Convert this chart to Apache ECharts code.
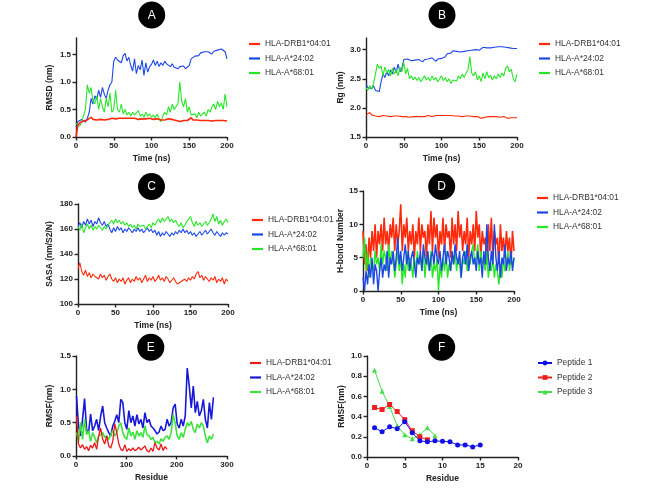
<!DOCTYPE html>
<html><head><meta charset="utf-8">
<script src="https://cdn.jsdelivr.net/npm/echarts@6/dist/echarts.min.js"></script>
<style>html,body{margin:0;padding:0;background:#fff}#c{width:669px;height:492px}</style>
</head><body><div id="c"></div>
<script>
// ---------- names & ticks ----------
const hlaNames = ['HLA-DRB1*04:01', 'HLA-A*24:02', 'HLA-A*68:01'];
const peptideNames = ['Peptide 1', 'Peptide 2', 'Peptide 3'];
const panelLetters = ['A', 'B', 'C', 'D', 'E', 'F'];
const timeTicks = [0, 50, 100, 150, 200];
const rmsdTicks = [0, 0.5, 1.0, 1.5];
const rgTicks = [1.5, 2.0, 2.5, 3.0];
const sasaTicks = [100, 120, 140, 160, 180];
const hbondTicks = [0, 5, 10, 15];
const residueTicksE = [0, 100, 200, 300];
const rmsfTicksE = [0, 0.5, 1.0, 1.5];
const residueTicksF = [0, 5, 10, 15, 20];
const rmsfTicksF = [0, 0.2, 0.4, 0.6, 0.8, 1.0];

// ---------- time grids ----------
const time25 = [0,2.5,5,7.5,10,12.5,15,17.5,20,22.5,25,27.5,30,32.5,35,37.5,40,42.5,45,47.5,50,52.5,55,57.5,60,62.5,65,67.5,70,72.5,75,77.5,80,82.5,85,87.5,90,92.5,95,97.5,100,102.5,105,107.5,110,112.5,115,117.5,120,122.5,125,127.5,130,132.5,135,137.5,140,142.5,145,147.5,150,152.5,155,157.5,160,162.5,165,167.5,170,172.5,175,177.5,180,182.5,185,187.5,190,192.5,195,197.5,200];
const time2 = [0,2,4,6,8,10,12,14,16,18,20,22,24,26,28,30,32,34,36,38,40,42,44,46,48,50,52,54,56,58,60,62,64,66,68,70,72,74,76,78,80,82,84,86,88,90,92,94,96,98,100,102,104,106,108,110,112,114,116,118,120,122,124,126,128,130,132,134,136,138,140,142,144,146,148,150,152,154,156,158,160,162,164,166,168,170,172,174,176,178,180,182,184,186,188,190,192,194,196,198,200];

// ---------- A: RMSD ----------
const rmsdDRB1 = [0.0,0.22,0.26,0.28,0.29,0.3,0.31,0.34,0.36,0.32,
 0.3,0.31,0.31,0.32,0.32,0.31,0.33,0.32,0.33,0.34,
 0.34,0.33,0.35,0.34,0.33,0.34,0.35,0.34,0.33,0.34,
 0.33,0.34,0.33,0.32,0.34,0.33,0.32,0.33,0.32,0.34,
 0.33,0.32,0.31,0.33,0.32,0.31,0.32,0.31,0.32,0.33,
 0.31,0.32,0.31,0.3,0.32,0.28,0.31,0.3,0.31,0.3,
 0.32,0.35,0.31,0.3,0.31,0.29,0.3,0.31,0.3,0.29,
 0.3,0.31,0.29,0.3,0.3,0.29,0.3,0.29,0.3,0.29,
 0.29];
const rmsdA2402 = [0.18,0.28,0.25,0.32,0.3,0.27,0.34,0.45,0.7,0.6,
 0.75,0.68,0.85,0.72,0.9,0.78,0.7,0.85,0.95,1.0,
 1.38,1.45,1.4,1.42,1.35,1.48,1.52,1.38,1.45,1.3,
 1.2,1.42,1.15,1.3,1.22,1.4,1.12,1.35,1.18,1.28,
 1.32,1.4,1.3,1.38,1.28,1.35,1.3,1.38,1.33,1.36,
 1.28,1.33,1.27,1.3,1.24,1.28,1.25,1.29,1.24,1.27,
 1.3,1.42,1.45,1.47,1.5,1.48,1.53,1.5,1.55,1.52,
 1.55,1.54,1.51,1.56,1.55,1.58,1.56,1.6,1.58,1.55,
 1.42];
const rmsdA6801 = [0.25,0.22,0.2,0.28,0.3,0.5,0.95,0.8,0.9,0.65,
 0.6,0.75,0.5,0.7,0.55,0.45,0.7,0.55,0.8,0.45,
 0.5,0.85,0.5,0.45,0.6,0.42,0.5,0.4,0.45,0.38,
 0.45,0.4,0.4,0.48,0.38,0.42,0.36,0.45,0.38,0.42,
 0.36,0.4,0.35,0.42,0.33,0.28,0.38,0.45,0.4,0.55,
 0.45,0.6,0.5,0.55,0.6,1.0,0.65,0.55,0.7,0.45,
 0.55,0.4,0.38,0.42,0.35,0.45,0.38,0.4,0.45,0.38,
 0.5,0.45,0.55,0.6,0.5,0.65,0.55,0.62,0.5,0.78,
 0.55];

// ---------- B: Rg ----------
const rgDRB1 = [1.88,1.9,1.92,1.88,1.87,1.86,1.87,1.85,1.86,1.87,
 1.85,1.86,1.86,1.85,1.87,1.86,1.85,1.86,1.87,1.85,
 1.86,1.85,1.86,1.84,1.86,1.85,1.86,1.85,1.86,1.85,
 1.86,1.85,1.86,1.87,1.86,1.85,1.86,1.87,1.86,1.87,
 1.86,1.87,1.86,1.87,1.86,1.87,1.86,1.86,1.87,1.86,
 1.86,1.85,1.86,1.86,1.85,1.86,1.86,1.85,1.86,1.85,
 1.84,1.82,1.85,1.84,1.85,1.85,1.84,1.85,1.84,1.85,
 1.84,1.84,1.83,1.85,1.84,1.82,1.84,1.83,1.84,1.83,
 1.83];
const rgA2402 = [2.4,2.35,2.37,2.33,2.38,2.3,2.33,2.28,2.45,2.58,
 2.52,2.62,2.55,2.65,2.58,2.7,2.6,2.75,2.62,2.68,
 2.83,2.86,2.84,2.83,2.81,2.84,2.82,2.8,2.83,2.81,
 2.79,2.83,2.8,2.84,2.82,2.86,2.83,2.8,2.84,2.82,
 2.85,2.83,2.88,2.93,2.96,2.94,2.98,2.95,2.97,2.94,
 2.96,2.93,2.97,2.95,2.98,2.96,2.99,2.97,3.0,3.02,
 2.99,3.02,3.04,3.02,3.03,3.05,3.03,3.06,3.04,3.07,
 3.05,3.08,3.05,3.06,3.04,3.07,3.03,3.0,3.02,3.04,
 3.02];
const rgA6801 = [2.35,2.3,2.38,2.32,2.42,2.58,2.75,2.68,2.72,2.55,
 2.7,2.6,2.66,2.55,2.68,2.58,2.65,2.55,2.7,2.62,
 2.78,2.58,2.68,2.5,2.55,2.48,2.53,2.47,2.52,2.45,
 2.5,2.55,2.48,2.52,2.46,2.55,2.48,2.52,2.45,2.5,
 2.55,2.47,2.52,2.45,2.5,2.42,2.48,2.5,2.46,2.55,
 2.5,2.58,2.52,2.6,2.65,2.88,2.6,2.55,2.62,2.48,
 2.55,2.45,2.6,2.5,2.62,2.52,2.56,2.48,2.55,2.5,
 2.58,2.52,2.6,2.55,2.68,2.72,2.62,2.66,2.5,2.45,
 2.58];

// ---------- C: SASA ----------
const sasaDRB1 = [128,133,126,123,127,122,125,121,124,122,
 123,120,124,121,123,119,122,124,120,118,
 121,117,120,118,121,116,119,121,117,120,
 118,122,119,121,117,120,123,118,121,119,
 122,118,120,123,119,121,118,122,120,117,
 119,121,118,116,115,118,117,120,118,121,
 119,122,120,124,126,121,123,119,122,120,
 118,121,119,122,117,120,118,121,116,120,
 118];
const sasaA2402 = [162,165,161,166,163,168,164,167,162,166,
 164,169,165,163,166,162,164,160,157,161,
 158,162,159,161,157,160,158,161,159,157,
 160,158,161,158,160,157,159,161,158,160,
 157,159,155,158,154,157,155,158,156,154,
 157,155,158,156,159,157,160,157,159,156,
 158,155,157,154,156,158,155,157,159,156,
 158,160,157,155,158,156,154,157,155,157,
 156];
const sasaA6801 = [162,159,164,157,161,164,160,163,159,162,
 160,163,161,159,162,160,163,165,167,164,
 168,165,167,164,166,163,165,162,164,161,
 163,160,164,162,161,163,160,162,164,161,
 165,163,166,168,165,169,166,168,170,166,
 168,165,167,164,162,165,161,163,166,168,
 170,165,162,166,163,165,162,164,166,163,
 165,168,172,166,170,164,167,163,166,168,
 165];

// ---------- D: H-bond number ----------
const hbDRB1 = [9,4,7,3,8,5,9,6,10,5,
 9,7,10,6,11,7,9,6,10,8,
 11,6,10,7,9,13,6,10,8,11,
 6,9,7,10,5,9,7,11,6,10,
 8,9,5,10,7,12,6,11,8,10,
 5,9,7,11,6,10,8,9,5,11,
 7,10,6,12,8,10,6,9,7,11,
 5,9,7,10,6,12,8,10,5,9,
 7,8,4,10,6,11,5,9,7,8,
 4,10,6,8,5,9,6,8,4,9,
 6];
const hbA2402 = [2,0,3,1,4,2,5,1,4,3,
 0,3,5,2,4,3,6,2,5,4,
 6,3,5,8,4,6,3,5,7,4,
 6,3,5,6,4,2,5,4,6,3,
 7,5,4,6,3,5,6,4,7,5,
 4,6,3,5,7,4,6,5,3,6,
 4,7,5,4,6,2,5,6,4,7,
 3,5,6,4,5,3,6,4,5,2,
 6,4,10,5,3,6,4,10,5,3,
 6,2,5,4,7,3,5,4,6,3,
 5];
const hbA6801 = [5,8,3,6,2,5,4,3,6,4,
 5,3,7,4,6,5,3,7,4,6,
 5,2,4,6,3,5,1,4,2,6,
 3,5,4,2,5,3,6,4,5,3,
 6,2,5,4,3,6,2,4,3,5,
 0,4,2,5,3,6,2,4,3,5,
 4,6,3,5,4,2,5,4,6,3,
 5,4,6,7,4,5,7,3,6,4,
 5,3,6,2,4,3,5,2,4,3,
 1,4,2,5,3,4,6,3,5,4,
 5];

// ---------- E: RMSF per residue ----------
const residueAll = [1,5,9,13,17,21,25,29,33,37,41,45,49,53,57,61,65,69,73,77,81,85,89,93,97,101,105,109,113,117,121,125,129,133,137,141,145,149,153,157,161,165,169,173,177,181,185,189,193,197,201,205,209,213,217,221,225,229,233,237,241,245,249,253,257,261,265,269,273];
const residueDRB1 = [1,5,9,13,17,21,25,29,33,37,41,45,49,53,57,61,65,69,73,77,81,85,89,93,97,101,105,109,113,117,121,125,129,133,137,141,145,149,153,157,161,165,169,173,177,181];
const rmsfDRB1 = [0.6,0.18,0.12,0.17,0.1,0.14,0.08,0.16,0.12,0.2,
 0.1,0.3,0.42,0.25,0.18,0.3,0.15,0.12,0.22,0.48,
 0.35,0.18,0.1,0.08,0.17,0.07,0.11,0.08,0.12,0.08,
 0.1,0.13,0.09,0.12,0.15,0.08,0.06,0.12,0.07,0.2,
 0.12,0.09,0.18,0.08,0.14,0.1];
const rmsfA2402 = [0.9,0.45,0.3,0.55,0.86,0.4,0.35,0.63,0.38,0.45,
 0.55,0.38,0.6,0.75,0.5,0.42,0.35,0.3,0.45,0.52,
 0.62,0.5,0.85,0.8,0.5,0.4,0.68,0.5,0.6,0.45,
 0.62,0.48,0.55,0.42,0.65,0.5,0.55,0.45,0.42,0.38,
 0.33,0.36,0.45,0.38,0.4,0.55,0.45,0.5,0.72,0.78,
 0.48,0.42,0.55,0.45,0.6,1.32,1.05,0.72,1.05,0.65,
 0.82,0.6,0.68,0.85,0.55,0.42,0.8,0.55,0.88];
const rmsfA6801 = [0.35,0.22,0.5,0.25,0.55,0.32,0.38,0.22,0.35,0.28,
 0.2,0.3,0.32,0.35,0.28,0.3,0.25,0.32,0.38,0.3,
 0.35,0.45,0.5,0.35,0.28,0.25,0.42,0.3,0.36,0.25,
 0.38,0.3,0.35,0.28,0.45,0.32,0.3,0.25,0.28,0.2,
 0.22,0.18,0.26,0.22,0.28,0.3,0.25,0.35,0.62,0.5,
 0.3,0.25,0.35,0.28,0.4,0.5,0.45,0.52,0.4,0.35,
 0.48,0.42,0.5,0.45,0.3,0.2,0.3,0.25,0.33];

// ---------- F: peptide RMSF ----------
const pep1Res = [1,2,3,4,5,6,7,8,9,10,11,12,13,14,15];
const pep1Rmsf = [0.29,0.25,0.30,0.28,0.35,0.24,0.16,0.15,0.16,0.155,0.15,0.12,0.12,0.10,0.12];
const pep2Res = [1,2,3,4,5,6,7,8];
const pep2Rmsf = [0.49,0.47,0.52,0.45,0.37,0.26,0.20,0.17];
const pep3Res = [1,2,3,4,5,6,7,8,9];
const pep3Rmsf = [0.86,0.65,0.50,0.31,0.22,0.18,0.22,0.29,0.21];

// ---------- styling ----------
const RED = '#ff2a0c', BLUE = '#1c46e8', GREEN = '#27e627';
const E_RED = '#ea1a1a', E_BLUE = '#1818d8', E_GREEN = '#3ee23e';
const F_BLUE = '#1010e6', F_RED = '#ee1e1e', F_GREEN = '#44dd44';
const AX = '#222';
const FONT = '"Liberation Sans", Arial, sans-serif';

const zip = (xs, ys) => xs.map((x, i) => [x, ys[i]]);

const grids = [
  {left: 76, top: 38, width: 151, height: 99},   // A
  {left: 366, top: 38, width: 151, height: 99},  // B
  {left: 78, top: 204, width: 150, height: 100}, // C
  {left: 363, top: 191, width: 151, height: 100},// D
  {left: 76, top: 356, width: 151, height: 100}, // E
  {left: 367, top: 356, width: 151, height: 101} // F
];

function axisBase(gi, min, max, ticks, name, nameGap, dec) {
  return {
    type: 'value', gridIndex: gi, min: min, max: max,
    name: name, nameLocation: 'middle', nameGap: nameGap,
    nameTextStyle: {fontSize: 8.5, fontWeight: 'bold', color: AX, fontFamily: FONT},
    axisLine: {show: true, onZero: false, lineStyle: {color: AX, width: 1.4}},
    axisTick: {show: true, length: 3.5, inside: false, customValues: ticks, lineStyle: {color: AX, width: 1.4}},
    axisLabel: {fontSize: 8, fontWeight: 'bold', color: AX, margin: 5, fontFamily: FONT,
      customValues: ticks, formatter: v => dec ? Number(v).toFixed(dec) : String(Math.round(v))},
    splitLine: {show: false}
  };
}

const xAxes = [
  axisBase(0, 0, 200, timeTicks, 'Time (ns)', 17, 0),
  axisBase(1, 0, 200, timeTicks, 'Time (ns)', 17, 0),
  axisBase(2, 0, 200, timeTicks, 'Time (ns)', 17, 0),
  axisBase(3, 0, 200, timeTicks, 'Time (ns)', 17, 0),
  axisBase(4, 0, 300, residueTicksE, 'Residue', 17, 0),
  axisBase(5, 0, 20, residueTicksF, 'Residue', 17, 0)
];
const yAxes = [
  axisBase(0, 0, 1.8, rmsdTicks, 'RMSD (nm)', 22, 1),
  axisBase(1, 1.5, 3.2, rgTicks, 'Rg (nm)', 21, 1),
  axisBase(2, 100, 180, sasaTicks, 'SASA (nm/S2/N)', 24, 0),
  axisBase(3, 0, 15, hbondTicks, 'H-bond Number', 18, 0),
  axisBase(4, 0, 1.5, rmsfTicksE, 'RMSF(nm)', 22, 1),
  axisBase(5, 0, 1.0, rmsfTicksF, 'RMSF(nm)', 21, 1)
];

function lineSeries(gi, name, xs, ys, color, width, z) {
  return {
    type: 'line', name: name, xAxisIndex: gi, yAxisIndex: gi,
    data: zip(xs, ys), showSymbol: false, symbol: 'none',
    lineStyle: {color: color, width: width}, itemStyle: {color: color},
    silent: true, z: z || 2, animation: false
  };
}
function markerSeries(gi, name, xs, ys, color, symbol, z) {
  return {
    type: 'line', name: name, xAxisIndex: gi, yAxisIndex: gi,
    data: zip(xs, ys), symbol: symbol, symbolSize: 5, showSymbol: true,
    lineStyle: {color: color, width: 1}, itemStyle: {color: color},
    silent: true, z: z || 2, animation: false
  };
}

const series = [
  // A
  lineSeries(0, hlaNames[1], time25, rmsdA2402, BLUE, 1.1),
  lineSeries(0, hlaNames[2], time25, rmsdA6801, GREEN, 1.1),
  lineSeries(0, hlaNames[0], time25, rmsdDRB1, RED, 1.6),
  // B
  lineSeries(1, hlaNames[1], time25, rgA2402, BLUE, 1.1),
  lineSeries(1, hlaNames[2], time25, rgA6801, GREEN, 1.1),
  lineSeries(1, hlaNames[0], time25, rgDRB1, RED, 1.1),
  // C
  lineSeries(2, hlaNames[0], time25, sasaDRB1, RED, 1.1),
  lineSeries(2, hlaNames[1], time25, sasaA2402, BLUE, 1.1),
  lineSeries(2, hlaNames[2], time25, sasaA6801, GREEN, 1.1),
  // D
  lineSeries(3, hlaNames[0], time2, hbDRB1, RED, 1.6),
  lineSeries(3, hlaNames[2], time2, hbA6801, GREEN, 1.4),
  lineSeries(3, hlaNames[1], time2, hbA2402, BLUE, 1.4),
  // E
  lineSeries(4, hlaNames[1], residueAll, rmsfA2402, E_BLUE, 1.6),
  lineSeries(4, hlaNames[2], residueAll, rmsfA6801, E_GREEN, 1.6),
  lineSeries(4, hlaNames[0], residueDRB1, rmsfDRB1, E_RED, 1.3),
  // F
  markerSeries(5, peptideNames[2], pep3Res, pep3Rmsf, F_GREEN, 'triangle'),
  markerSeries(5, peptideNames[1], pep2Res, pep2Rmsf, F_RED, 'rect'),
  markerSeries(5, peptideNames[0], pep1Res, pep1Rmsf, F_BLUE, 'circle')
];

function hlaLegend(left, top, colors) {
  return {
    orient: 'vertical', left: left, top: top, itemGap: 2.5, itemWidth: 11, itemHeight: 2.2,
    icon: 'rect', selectedMode: false, padding: 0,
    textStyle: {fontSize: 8.4, color: '#333', lineHeight: 12, fontFamily: FONT},
    data: hlaNames.map((n, i) => ({name: n, itemStyle: {color: colors[i]}}))
  };
}
const legends = [
  hlaLegend(249, 38, [RED, BLUE, GREEN]),
  hlaLegend(539, 38, [RED, BLUE, GREEN]),
  hlaLegend(252, 214, [RED, BLUE, GREEN]),
  hlaLegend(537, 192, [RED, BLUE, GREEN]),
  hlaLegend(250, 357, [E_RED, E_BLUE, E_GREEN]),
  {
    orient: 'vertical', left: 537, top: 357, itemGap: 2.5, itemWidth: 14, itemHeight: 6,
    selectedMode: false, padding: 0,
    textStyle: {fontSize: 8.4, color: '#333', lineHeight: 12, fontFamily: FONT},
    data: peptideNames
  }
];

const badgeCenters = [[151.7, 15], [442, 15], [151.5, 186.5], [441.7, 186.5], [150.8, 347.3], [441.7, 347.3]];
const graphics = [];
badgeCenters.forEach((c, i) => {
  graphics.push({type: 'circle', shape: {cx: c[0], cy: c[1], r: 13.5}, style: {fill: '#000'}, z: 100, silent: true});
  graphics.push({type: 'text', x: c[0], y: c[1] + 0.5, z: 101, silent: true,
    style: {text: panelLetters[i], fill: '#fff', fontSize: 12, fontFamily: FONT,
      align: 'center', verticalAlign: 'middle', textAlign: 'center', textVerticalAlign: 'middle'}});
});

const chart = echarts.init(document.getElementById('c'), null, {renderer: 'canvas'});
chart.setOption({
  backgroundColor: '#fff',
  animation: false,
  textStyle: {fontFamily: FONT},
  grid: grids,
  xAxis: xAxes,
  yAxis: yAxes,
  legend: legends,
  series: series,
  graphic: graphics
});
</script>
</body></html>
